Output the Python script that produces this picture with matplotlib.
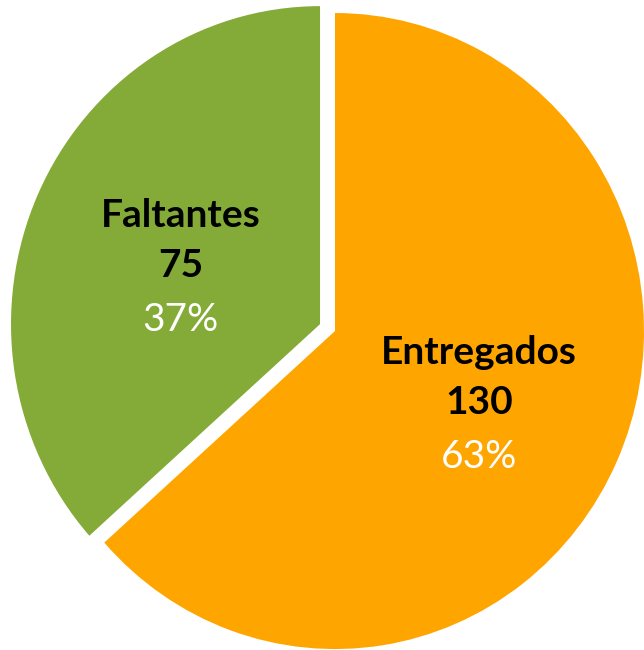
import matplotlib.pyplot as plt
import numpy as np

labels = ["Entregados", "Faltantes"]
values = [130, 75]
percents = ["63%", "37%"]
colors = ["#FFA500", "#84AA37"]
explode = [0.0, 0.053]

plt.rcParams["font.family"] = ["Lato", "DejaVu Sans"]

fig = plt.figure(figsize=(6.44, 6.50), dpi=100)
ax = fig.add_axes([0, 0, 1, 1])

wedges, _ = ax.pie(
    values,
    colors=colors,
    explode=explode,
    startangle=90,
    counterclock=False,
    radius=1.0,
)

# labels: name, value, percent stacked at the wedge middle
for w, name, val, pct, ex in zip(wedges, labels, values, percents, explode):
    mid = np.deg2rad((w.theta1 + w.theta2) / 2)
    r = 0.51 + ex * 0.7
    cx, cy = r * np.cos(mid), r * np.sin(mid) - 0.017
    ax.text(cx, cy + 0.158, name, ha="center", va="center",
            fontsize=28, fontweight="bold", color="black")
    ax.text(cx, cy, str(val), ha="center", va="center",
            fontsize=28, fontweight="bold", color="black")
    ax.text(cx, cy - 0.172, pct, ha="center", va="center",
            fontsize=28, color="white")

ax.set_aspect("auto")
ax.set_xlim(-1.084, 1.0)
ax.set_ylim(-1.003, 1.041)
ax.axis("off")

fig.savefig("out.png", dpi=100)
